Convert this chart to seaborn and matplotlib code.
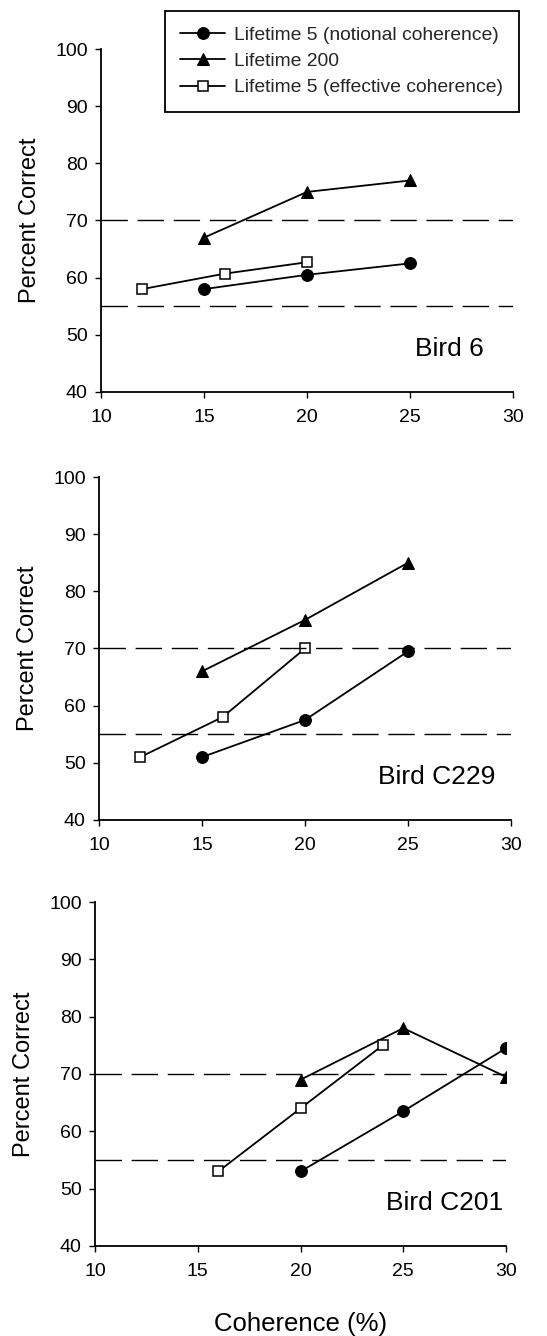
import numpy as np
import pandas as pd
import matplotlib
matplotlib.use("Agg")
import matplotlib.pyplot as plt
import seaborn as sns

# ---- data ----
birds = ["Bird 6", "Bird C229", "Bird C201"]
series_names = ["Lifetime 5 (notional coherence)", "Lifetime 200", "Lifetime 5 (effective coherence)"]

# Bird 6
b6_notional_x = [15, 20, 25]
b6_notional_y = [58, 60.5, 62.5]
b6_l200_x = [15, 20, 25]
b6_l200_y = [67, 75, 77]
b6_effective_x = [12, 16, 20]
b6_effective_y = [58, 60.7, 62.7]

# Bird C229
c229_notional_x = [15, 20, 25]
c229_notional_y = [51, 57.5, 69.5]
c229_l200_x = [15, 20, 25]
c229_l200_y = [66, 75, 85]
c229_effective_x = [12, 16, 20]
c229_effective_y = [51, 58, 70]

# Bird C201
c201_notional_x = [20, 25, 30]
c201_notional_y = [53, 63.5, 74.5]
c201_l200_x = [20, 25, 30]
c201_l200_y = [69, 78, 69.5]
c201_effective_x = [16, 20, 24]
c201_effective_y = [53, 64, 75]

criterion_levels = [70, 55]
x_ticks = [10, 15, 20, 25, 30]
y_ticks = [40, 50, 60, 70, 80, 90, 100]

panels = [
    (b6_notional_x, b6_notional_y, b6_l200_x, b6_l200_y, b6_effective_x, b6_effective_y),
    (c229_notional_x, c229_notional_y, c229_l200_x, c229_l200_y, c229_effective_x, c229_effective_y),
    (c201_notional_x, c201_notional_y, c201_l200_x, c201_l200_y, c201_effective_x, c201_effective_y),
]

# ---- style ----
sns.set_theme(style="ticks")
plt.rcParams["font.family"] = ["Liberation Sans", "DejaVu Sans"]

fig = plt.figure(figsize=(5.47, 13.36), dpi=100)

axes_rects = [
    (101 / 547, 1 - 392 / 1336, 412 / 547, 343 / 1336),
    (99 / 547, 1 - 820 / 1336, 412 / 547, 343 / 1336),
    (95 / 547, 1 - 1246 / 1336, 411 / 547, 344 / 1336),
]
label_pos = [(26.9, 47.6), (26.4, 47.5), (27.0, 47.5)]

styles = [
    dict(marker="o", markersize=8.5, markerfacecolor="black", markeredgecolor="black"),
    dict(marker="^", markersize=8.5, markerfacecolor="black", markeredgecolor="black"),
    dict(marker="s", markersize=7.5, markerfacecolor="white", markeredgecolor="black", markeredgewidth=1.1),
]

handles = None
for i, (rect, pdata) in enumerate(zip(axes_rects, panels)):
    ax = fig.add_axes(rect)
    xs = [pdata[0], pdata[2], pdata[4]]
    ys = [pdata[1], pdata[3], pdata[5]]
    for name, x, y, st in zip(series_names, xs, ys, styles):
        df = pd.DataFrame({"x": x, "y": y})
        sns.lineplot(data=df, x="x", y="y", ax=ax, color="black", linewidth=1.3,
                     label=name, legend=False, **st)
    for lvl in criterion_levels:
        ax.axhline(lvl, color="black", linewidth=1.0, linestyle=(0, (19, 7)))
    ax.set_xlim(10, 30)
    ax.set_ylim(40, 100)
    ax.set_xticks(x_ticks)
    ax.set_yticks(y_ticks)
    ax.tick_params(axis="both", labelsize=14, colors="black", length=4.5, width=1.0, direction="out")
    ax.tick_params(axis="x", pad=8)
    ax.tick_params(axis="y", pad=5)
    for s in ["top", "right"]:
        ax.spines[s].set_visible(False)
    for s in ["left", "bottom"]:
        ax.spines[s].set_color("black")
        ax.spines[s].set_linewidth(1.3)
    ax.set_ylabel("Percent Correct", fontsize=17, labelpad=10, color="black")
    ax.set_xlabel("")
    ax.text(label_pos[i][0], label_pos[i][1], birds[i], fontsize=19, ha="center", va="center", color="black")
    if i == 0:
        handles, labels = ax.get_legend_handles_labels()
    if i == 2:
        ax.set_xlabel("Coherence (%)", fontsize=18.5, labelpad=23, color="black")

leg = fig.legend(handles, series_names, loc="upper left",
                 bbox_to_anchor=(165 / 547, 1 - 11 / 1336), borderaxespad=0,
                 fontsize=13.9, frameon=True, fancybox=False, edgecolor="black",
                 handlelength=2.3, handletextpad=0.5, labelspacing=0.45,
                 borderpad=0.8, framealpha=1)
leg.get_frame().set_linewidth(1.3)

fig.savefig("out.png", dpi=100, facecolor="white")
